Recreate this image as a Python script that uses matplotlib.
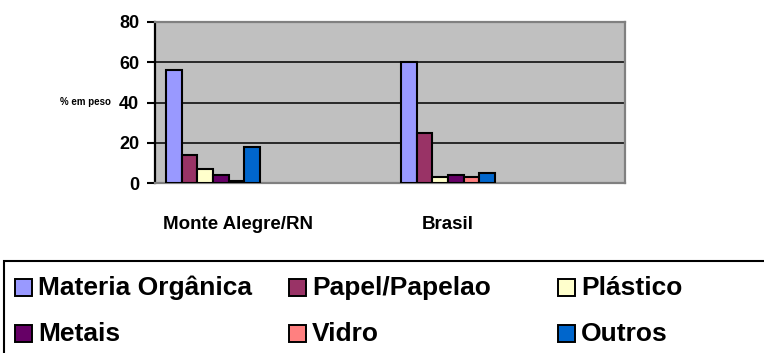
import numpy as np
import matplotlib
matplotlib.use("Agg")
import matplotlib.pyplot as plt
from matplotlib.patches import Rectangle

plt.rcParams['font.family'] = ['Liberation Sans', 'DejaVu Sans']
plt.rcParams['font.weight'] = 'bold'

# composição gravimétrica dos resíduos (% em peso)
locais = ["Monte Alegre/RN", "Brasil"]
materiais = ["Materia Orgânica", "Papel/Papelao", "Plástico",
             "Metais", "Vidro", "Outros"]
monte_alegre = [56, 14, 7, 4, 1, 18]
brasil = [60, 25, 3, 4, 3, 5]
yticks = [0, 20, 40, 60, 80]

cores = ["#9999FF", "#993366", "#FFFFCC", "#660066", "#FF8080", "#0066CC"]

W, H = 764, 353
fig = plt.figure(figsize=(W / 100, H / 100), dpi=100)


def fx(px):
    return px / W


def fy(py):
    return 1 - py / H


# área do gráfico
ax = fig.add_axes([fx(155), fy(183), fx(625) - fx(155), fy(22) - fy(183)])
ax.set_facecolor("#C0C0C0")

valores = np.array([monte_alegre, brasil])
x = np.arange(len(locais))
largura = 0.0667
n = len(materiais)
for i, (mat, cor) in enumerate(zip(materiais, cores)):
    pos = x - largura * n / 2 + largura * (i + 0.5)
    ax.bar(pos, valores[:, i], width=largura, color=cor,
           edgecolor="black", linewidth=1.5, label=mat, zorder=3)

ax.set_xlim(-0.2468, 1.7532)
ax.set_ylim(0, 80)
ax.set_yticks(yticks)
ax.set_yticklabels([str(v) for v in yticks], fontsize=13, fontweight="bold")
ax.tick_params(axis="y", length=5.5, width=1.5, pad=6, direction="out")

ax.set_xticks(x + np.array([0.106, 0.0]))
ax.set_xticklabels(locais, fontsize=13.5, fontweight="bold")
ax.tick_params(axis="x", length=0, pad=24)

ax.yaxis.grid(True, color="black", linewidth=1.1)
ax.set_axisbelow(True)

for lado in ["top", "right", "bottom"]:
    ax.spines[lado].set_color("#808080")
    ax.spines[lado].set_linewidth(1.6)
ax.spines["left"].set_color("black")
ax.spines["left"].set_linewidth(1.6)

ax.set_ylabel("% em peso", rotation=0, fontsize=7, fontweight="bold",
              ha="right", va="center")
ax.yaxis.set_label_coords(-0.094, 0.503)

# legenda desenhada à mão (colunas de largura igual, cortada na borda)
fig.patches.append(Rectangle((fx(4), fy(H + 10)), fx(W + 20) - fx(4),
                             fy(261) - fy(H + 10), transform=fig.transFigure,
                             fill=False, edgecolor="black", linewidth=1.5))
col_x = [15, 289, 558]
lin_y = [287, 333]
lado = 17
for i, (mat, cor) in enumerate(zip(materiais, cores)):
    cx = col_x[i % 3]
    cy = lin_y[i // 3]
    fig.patches.append(Rectangle((fx(cx), fy(cy + lado / 2)), fx(lado),
                                 fy(cy - lado / 2) - fy(cy + lado / 2),
                                 transform=fig.transFigure, facecolor=cor,
                                 edgecolor="black", linewidth=1.4))
    fig.text(fx(cx + 23), fy(cy + 8), mat, fontsize=19, fontweight="bold",
             ha="left", va="baseline")

fig.savefig("out.png", dpi=100)
